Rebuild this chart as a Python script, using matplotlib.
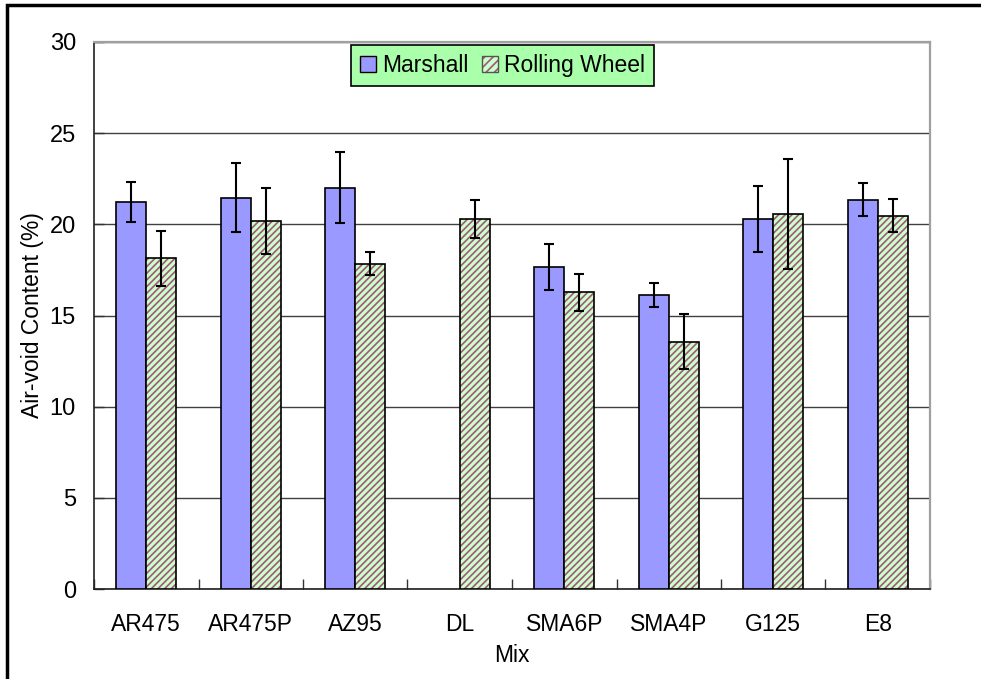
import numpy as np
import matplotlib
matplotlib.use("Agg")
import matplotlib.pyplot as plt
from matplotlib.patches import Patch, Rectangle
from matplotlib.legend_handler import HandlerTuple

categories = ["AR475", "AR475P", "AZ95", "DL", "SMA6P", "SMA4P", "G125", "E8"]
marshall = [21.24, 21.47, 22.02, None, 17.64, 16.14, 20.28, 21.36]
marshall_err = [1.10, 1.90, 1.94, None, 1.26, 0.65, 1.80, 0.88]
rolling = [18.14, 20.19, 17.85, 20.30, 16.27, 13.57, 20.57, 20.48]
rolling_err = [1.52, 1.79, 0.65, 1.05, 1.00, 1.50, 3.02, 0.89]
yticks = [0, 5, 10, 15, 20, 25, 30]

plt.rcParams['font.family'] = ['Liberation Sans', 'DejaVu Sans']
plt.rcParams['hatch.linewidth'] = 1.2

fig = plt.figure(figsize=(9.81, 6.79), dpi=100)
ax = fig.add_axes([94/981, 1-589/679, (930-94)/981, (589-42)/679])

x = np.arange(len(categories))
w = 0.287
m_vals = np.array([np.nan if v is None else v for v in marshall], dtype=float)
m_errs = np.array([np.nan if v is None else v for v in marshall_err], dtype=float)
r_vals = np.array(rolling, dtype=float)
r_errs = np.array(rolling_err, dtype=float)

hatch_col = '#A05878'
green = '#CCFFCC'

mask = ~np.isnan(m_vals)
ax.bar(x[mask] - w/2, m_vals[mask], width=w, color='#9999FF', edgecolor='black', linewidth=1.2, zorder=3)
ax.bar(x + w/2, r_vals, width=w, color=green, edgecolor=hatch_col, hatch='/////', linewidth=0, zorder=3)
ax.bar(x + w/2, r_vals, width=w, color='none', edgecolor='black', linewidth=1.2, zorder=4)

ax.errorbar(x[mask] - w/2, m_vals[mask], yerr=m_errs[mask], fmt='none', ecolor='black', elinewidth=1.5, capsize=3.5, capthick=1.5, zorder=5)
ax.errorbar(x + w/2, r_vals, yerr=r_errs, fmt='none', ecolor='black', elinewidth=1.5, capsize=3.5, capthick=1.5, zorder=5)

ax.set_xlim(-0.5, len(categories) - 0.5)
ax.set_ylim(0, 30)
ax.set_yticks(yticks)
ax.set_yticklabels([str(t) for t in yticks], fontsize=17)
ax.set_xticks(x)
ax.set_xticklabels(categories, fontsize=16.5)
ax.set_xticks(np.arange(len(categories) + 1) - 0.5, minor=True)
ax.tick_params(axis='x', which='major', length=0, pad=17)
ax.tick_params(axis='x', which='minor', direction='in', length=7, width=1, color='#333333')
ax.tick_params(axis='y', direction='in', length=7, width=1, color='#333333', pad=13)

ax.yaxis.grid(True, color='#404040', linewidth=1.0, zorder=0)
ax.set_axisbelow(True)

for s in ['top', 'right']:
    ax.spines[s].set_color('#A0A0A0')
    ax.spines[s].set_linewidth(1.6)
for s in ['left', 'bottom']:
    ax.spines[s].set_color('#202020')
    ax.spines[s].set_linewidth(1.2)

ax.set_ylabel("Air-void Content (%)", fontsize=16.5)
ax.yaxis.set_label_coords((44 - 94) / 836, 0.5)
ax.set_xlabel("Mix", fontsize=16.5)
ax.xaxis.set_label_coords(0.5, (589 - 644) / 547)

h1 = Patch(facecolor='#9999FF', edgecolor='black', linewidth=1)
h2a = Patch(facecolor=green, edgecolor=hatch_col, hatch='////', linewidth=0)
h2b = Patch(facecolor='none', edgecolor='#555555', linewidth=1)
leg = ax.legend([h1, (h2a, h2b)], ["Marshall", "Rolling Wheel"],
                handler_map={tuple: HandlerTuple(ndivide=1)},
                loc='center', bbox_to_anchor=(0.4886, 0.957), ncol=2,
                fontsize=16.5, frameon=True, fancybox=False,
                handlelength=0.7, handleheight=0.7, handletextpad=0.25,
                columnspacing=0.6, borderpad=0.4, borderaxespad=0)
leg.get_frame().set_facecolor('#AAFFAA')
leg.get_frame().set_edgecolor('black')
leg.get_frame().set_linewidth(1.2)
leg.get_frame().set_alpha(1)
leg.set_zorder(10)

fig.patches.append(Rectangle((7/981, -0.1), 1.2, 1 - 5/679 + 0.1, transform=fig.transFigure,
                             fill=False, edgecolor='black', linewidth=2.5))

fig.savefig("out.png", dpi=100)
